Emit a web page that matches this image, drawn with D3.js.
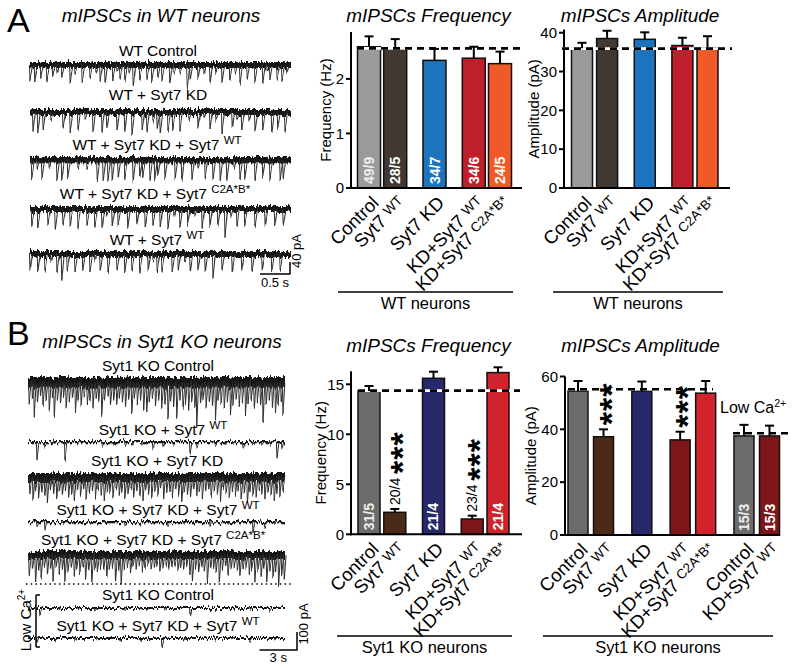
<!DOCTYPE html>
<html><head><meta charset="utf-8">
<script src="https://cdn.jsdelivr.net/npm/d3@7"></script>
<style>body{margin:0;background:#fff} svg{display:block}</style>
</head><body><svg id="c" width="800" height="668"></svg>
<script>
// ---------------- DATA ----------------
// Panel A bar charts (WT neurons)
const catsA = ["Control", "Syt7 ^WT", "Syt7 KD", "KD+Syt7 ^WT", "KD+Syt7 ^C2A*B*"];
const groupsA = [0, 0, 1, 2, 2];
const colorsA = ["#9a9a9a", "#413931", "#1c74bd", "#be1f2b", "#f05a28"];
const freqA = [2.59, 2.55, 2.34, 2.38, 2.28];
const freqAErr = [0.19, 0.18, 0.21, 0.21, 0.22];
const nA = ["49/9", "28/5", "34/7", "34/6", "24/5"];
const freqARef = 2.56;
const ampA = [36.0, 38.5, 38.3, 36.7, 36.1];
const ampAErr = [1.4, 2.0, 1.8, 2.0, 3.0];
const ampARef = 35.9;
const freqATicks = [0, 1, 2];
const ampATicks = [0, 10, 20, 30, 40];

// Panel B bar charts (Syt1 KO neurons)
const catsBF = ["Control", "Syt7 ^WT", "Syt7 KD", "KD+Syt7 ^WT", "KD+Syt7 ^C2A*B*"];
const groupsBF = [0, 0, 1, 2, 2];
const colorsBF = ["#6b6b6b", "#4b2a19", "#27296b", "#7d1519", "#d0232b"];
const freqB = [14.33, 2.2, 15.6, 1.53, 16.17];
const freqBErr = [0.5, 0.33, 0.66, 0.33, 0.53];
const nBF = ["31/5", "20/4", "21/4", "23/4", "21/4"];
const sigBF = [0, 3, 0, 3, 0];
const freqBRef = 14.37;
const freqBTicks = [0, 5, 10, 15];

const catsBA = ["Control", "Syt7 ^WT", "Syt7 KD", "KD+Syt7 ^WT", "KD+Syt7 ^C2A*B*", "Control", "KD+Syt7 ^WT"];
const groupsBA = [0, 0, 1, 2, 2, 3, 3];
const colorsBA = ["#6b6b6b", "#4b2a19", "#27296b", "#7d1519", "#d0232b", "#6b6b6b", "#7d1519"];
const ampB = [54.5, 37.2, 54.5, 36.0, 53.7, 37.5, 37.5];
const ampBErr = [3.8, 2.8, 3.6, 3.1, 4.6, 4.2, 3.9];
const nBA = ["", "", "", "", "", "15/3", "15/3"];
const sigBA = [0, 3, 0, 3, 0, 0, 0];
const ampBRef = 55.2;
const ampBLowCaRef = 38.5;
const ampBTicks = [0, 20, 40, 60];

// Example traces: labels, baseline noise (pA) and events [time (s), amplitude (pA)]
const traceLabelsA = ["WT Control", "WT + Syt7 KD", "WT + Syt7 KD + Syt7 ^WT", "WT + Syt7 KD + Syt7 ^C2A*B*", "WT + Syt7 ^WT"];
const traceNoiseA = [20, 20, 21, 20, 20];
const evA1 = [[0.00,55],[0.08,50],[0.18,45],[0.28,55],[0.38,40],[0.45,25],[0.53,45],[0.67,60],[0.75,28],[0.87,55],[1.00,45],[1.10,28],[1.17,55],[1.25,60],[1.38,50],[1.45,25],[1.50,45],[1.58,55],[1.65,28],[1.72,70],[1.83,50],[1.95,45],[2.03,60],[2.13,45],[2.20,55],[2.33,60],[2.40,28],[2.50,25],[2.62,75],[2.67,50],[2.80,45],[2.90,28],[3.00,55],[3.10,25],[3.20,60],[3.33,50],[3.42,28],[3.50,65],[3.62,45],[3.75,55],[3.88,60],[3.95,25],[4.00,50],[4.12,45],[4.20,55],[4.28,28]];
const evA2 = [[0.05,65],[0.13,70],[0.22,60],[0.35,28],[0.55,55],[0.67,70],[0.80,60],[0.92,28],[1.05,65],[1.20,70],[1.28,55],[1.45,60],[1.58,65],[1.70,75],[1.87,60],[1.95,65],[2.05,28],[2.12,55],[2.17,70],[2.30,65],[2.38,60],[2.50,65],[2.65,28],[2.80,55],[2.90,25],[3.00,60],[3.10,28],[3.20,70],[3.37,55],[3.45,25],[3.53,60],[3.65,28],[3.75,65],[3.88,60],[4.03,70],[4.13,55],[4.25,65]];
const evA3 = [[0.03,60],[0.12,28],[0.20,65],[0.32,25],[0.45,70],[0.53,65],[0.63,60],[0.80,25],[0.95,28],[1.12,70],[1.22,75],[1.30,65],[1.37,70],[1.47,60],[1.58,65],[1.72,70],[1.83,60],[1.88,55],[2.00,65],[2.08,70],[2.13,55],[2.25,65],[2.42,60],[2.53,70],[2.70,65],[2.80,28],[2.92,60],[3.05,65],[3.17,70],[3.28,75],[3.40,28],[3.50,60],[3.58,65],[3.75,70],[3.88,55],[4.00,65],[4.17,70],[4.22,60]];
const evA4 = [[0.03,55],[0.13,60],[0.30,55],[0.42,65],[0.55,55],[0.67,60],[0.80,65],[0.95,55],[1.08,60],[1.20,65],[1.28,25],[1.37,60],[1.47,55],[1.63,65],[1.78,55],[1.92,60],[2.05,55],[2.17,60],[2.30,65],[2.40,28],[2.50,60],[2.63,55],[2.75,25],[2.87,65],[3.00,60],[3.13,55],[3.25,95],[3.35,28],[3.45,60],[3.58,55],[3.75,60],[3.92,55],[4.08,60],[4.22,55]];
const evA5 = [[0.00,55],[0.13,60],[0.25,55],[0.35,25],[0.45,60],[0.53,85],[0.62,55],[0.75,60],[0.88,55],[1.00,60],[1.08,25],[1.17,55],[1.30,60],[1.45,55],[1.58,60],[1.70,55],[1.83,60],[1.97,55],[2.05,25],[2.12,60],[2.20,55],[2.37,60],[2.47,55],[2.58,25],[2.67,60],[2.80,55],[2.92,60],[3.05,75],[3.20,55],[3.37,60],[3.53,55],[3.70,60],[3.87,55],[4.03,60],[4.17,55]];

const traceLabelsB = ["Syt1 KO Control", "Syt1 KO + Syt7 ^WT", "Syt1 KO + Syt7 KD", "Syt1 KO + Syt7 KD + Syt7 ^WT", "Syt1 KO + Syt7 KD + Syt7 ^C2A*B*", "Syt1 KO Control", "Syt1 KO + Syt7 KD + Syt7 ^WT"];
const traceNoiseB = [60, 12, 50, 12, 45, 11, 11];
const evB1 = [[0.1,120],[0.35,90],[0.5,200],[0.75,110],[1.0,80],[1.2,130],[1.45,100],[1.7,150],[1.95,90],[2.1,190],[2.35,100],[2.6,120],[2.85,80],[3.05,140],[3.3,110],[3.55,90],[3.8,170],[4.0,100],[4.25,130],[4.5,80],[4.75,120],[4.95,100],[5.2,140],[5.45,90],[5.65,110],[5.9,180],[6.1,100],[6.4,80],[6.6,130],[6.85,100],[7.1,120],[7.3,90],[7.55,110],[7.8,140],[8.05,100],[8.3,170],[8.5,90],[8.75,120],[9.0,100],[9.25,150],[9.5,170],[9.7,110],[9.95,90],[10.2,130],[10.45,100],[10.7,140],[10.95,120],[11.2,200],[11.4,110],[11.65,130],[11.9,190],[12.15,100],[12.4,140],[12.6,120],[12.85,150],[13.1,110],[13.35,130],[13.5,250],[13.8,120],[14.0,100],[14.25,140],[14.5,110],[14.75,130],[15.0,210],[15.2,100],[15.45,120],[15.7,140],[15.95,110],[16.2,180],[16.4,120],[16.65,100],[16.9,130],[17.15,110],[17.4,180],[17.6,120],[17.85,100],[18.1,140],[18.35,110],[18.6,130],[18.8,220],[19.05,120],[19.3,100],[19.55,140],[19.8,170],[20.0,120],[20.25,110],[20.4,180]];
const evB2 = [[0.72,100],[1.36,25],[2.00,12],[2.96,105],[4.00,15],[5.92,20],[6.80,12],[7.76,25],[8.40,14],[9.12,20],[10.00,45],[10.80,25],[11.60,12],[12.96,60],[13.52,25],[14.96,20],[15.80,15],[16.40,12],[17.20,25],[18.00,14],[18.72,20],[19.36,20],[19.92,90],[20.32,40]];
const evB3 = [[0.15,90],[0.4,130],[0.6,70],[0.85,110],[1.1,80],[1.35,100],[1.55,140],[1.8,70],[2.05,90],[2.3,120],[2.5,80],[2.75,100],[3.0,70],[3.25,110],[3.5,90],[3.7,130],[3.95,80],[4.2,100],[4.45,70],[4.65,120],[4.9,90],[5.15,80],[5.4,110],[5.6,70],[5.85,100],[6.1,130],[6.35,80],[6.55,90],[6.8,110],[7.05,70],[7.3,100],[7.5,80],[7.75,120],[8.0,90],[8.25,70],[8.45,110],[8.7,80],[8.95,100],[9.2,130],[9.4,70],[9.65,90],[9.9,110],[10.15,80],[10.4,100],[10.6,70],[10.85,120],[11.1,90],[11.35,80],[11.55,110],[11.8,70],[12.05,100],[12.3,140],[12.5,80],[12.75,90],[13.0,110],[13.25,70],[13.5,100],[13.7,80],[13.95,120],[14.2,90],[14.45,70],[14.65,110],[14.9,80],[15.15,100],[15.4,130],[15.6,70],[15.85,90],[16.1,110],[16.35,80],[16.6,100],[16.8,70],[17.05,120],[17.3,90],[17.55,140],[17.75,80],[18.0,100],[18.25,110],[18.5,70],[18.7,90],[18.95,120],[19.2,80],[19.45,100],[19.7,130],[19.9,90],[20.15,110],[20.4,80]];
const evB4 = [[0.72,25],[1.36,45],[2.72,15],[3.50,10],[5.00,12],[6.20,10],[7.76,20],[9.00,12],[10.00,10],[11.20,25],[12.50,12],[13.40,10],[14.56,30],[16.00,12],[18.00,60],[18.96,30],[19.76,15],[20.20,10]];
const evB5 = [[0.1,120],[0.35,80],[0.6,150],[0.85,90],[1.05,130],[1.3,70],[1.55,110],[1.8,80],[2.0,140],[2.25,70],[2.5,100],[2.75,80],[2.95,150],[3.2,90],[3.45,70],[3.7,120],[3.9,80],[4.15,100],[4.4,70],[4.6,130],[4.85,90],[5.1,160],[5.35,80],[5.55,100],[5.8,70],[6.05,90],[6.3,120],[6.5,80],[6.75,70],[7.0,150],[7.25,90],[7.45,160],[7.7,80],[7.95,70],[8.2,100],[8.4,60],[8.65,80],[8.9,60],[9.15,90],[9.35,70],[9.6,60],[9.85,80],[10.1,70],[10.3,60],[10.55,90],[10.8,70],[11.05,60],[11.25,80],[11.5,70],[11.75,60],[12.0,90],[12.2,70],[12.45,80],[12.7,60],[12.95,110],[13.15,150],[13.4,80],[13.65,100],[13.9,70],[14.1,90],[14.35,150],[14.6,80],[14.85,70],[15.05,100],[15.3,160],[15.55,80],[15.8,70],[16.0,110],[16.25,80],[16.5,70],[16.75,90],[16.95,120],[17.2,80],[17.45,70],[17.7,100],[17.9,80],[18.15,140],[18.4,90],[18.65,120],[18.85,80],[19.1,150],[19.35,90],[19.6,130],[19.8,100],[20.05,160],[20.3,110],[20.5,140]];
const evB6 = [[0.96,40],[2.5,10],[4.0,10],[5.36,15],[7.76,15],[9.5,10],[10.96,15],[12.96,45],[15.0,10],[16.5,10],[17.76,15],[19.36,20]];
const evB7 = [[0.72,30],[2.2,10],[3.76,15],[5.5,10],[7.36,12],[9.0,10],[10.72,50],[12.5,10],[14.96,15],[16.3,10],[17.76,20],[19.76,15]];

const scaleBarA = {t: 0.5, pA: 40, tLabel: "0.5 s", aLabel: "40 pA"};
const scaleBarB = {t: 3, pA: 100, tLabel: "3 s", aLabel: "100 pA"};

// ---------------- DRAWING ----------------
const FONT = '"Liberation Sans", Arial, Helvetica, sans-serif';
const svg = d3.select("#c").attr("font-family", FONT);
const JIT = 8; // px of vertical jitter texture on traces

const defs = svg.append("defs");
const flt = defs.append("filter").attr("id", "jit").attr("filterUnits", "userSpaceOnUse")
  .attr("x", 0).attr("y", 0).attr("width", 800).attr("height", 668);
flt.append("feTurbulence").attr("type", "fractalNoise").attr("baseFrequency", "0.6 0.03")
  .attr("numOctaves", 2).attr("seed", 3).attr("result", "n");
flt.append("feColorMatrix").attr("in", "n").attr("type", "matrix")
  .attr("values", "0 0 0 0 0.5  0 1 0 0 0  0 0 1 0 0  0 0 0 0 1").attr("result", "m");
flt.append("feDisplacementMap").attr("in", "SourceGraphic").attr("in2", "m").attr("scale", JIT)
  .attr("xChannelSelector", "R").attr("yChannelSelector", "G");

function rich(sel, str, supSize, raise) {
  const parts = str.split("^");
  sel.append("tspan").text(parts[0]);
  if (parts.length > 1) sel.append("tspan").attr("font-size", supSize).attr("dy", -raise).text(parts[1]);
  return sel;
}
function txt(x, y, s, size, opts = {}) {
  const t = svg.append("text").attr("x", x).attr("y", y).attr("font-size", size)
    .attr("text-anchor", opts.anchor || "middle").attr("fill", opts.fill || "#000");
  if (opts.italic) t.attr("font-style", "italic");
  if (opts.bold) t.attr("font-weight", "bold");
  if (opts.ls) t.attr("letter-spacing", opts.ls);
  if (opts.rotate != null) t.attr("transform", `rotate(${opts.rotate},${x},${y})`);
  rich(t, s, opts.sup || size * 0.72, opts.raise || size * 0.38);
  return t;
}
function line(x1, y1, x2, y2, w = 1, color = "#000", dash) {
  const l = svg.append("line").attr("x1", x1).attr("y1", y1).attr("x2", x2).attr("y2", y2)
    .attr("stroke", color).attr("stroke-width", w);
  if (dash) l.attr("stroke-dasharray", dash);
  return l;
}

// panel letters and titles
txt(7, 32, "A", 34, {anchor: "start"});
txt(7, 345, "B", 34, {anchor: "start"});
txt(161, 22, "mIPSCs in WT neurons", 19, {italic: true});
txt(162, 348, "mIPSCs in Syt1 KO neurons", 19, {italic: true});

// ---- traces ----
function drawTraces(labels, events, noise, cfg) {
  const x = d3.scaleLinear().domain([0, cfg.tEnd]).range([cfg.x0, cfg.x1]);
  const a = d3.scaleLinear().domain([0, 100]).range([0, cfg.pxPer100]);
  labels.forEach((lab, i) => {
    txt(cfg.labelX[i], cfg.labelY[i], lab, 15.5, {sup: 11.5, raise: 6});
    const bw = a(noise[i]);
    const mid = cfg.base[i] + JIT / 2 + bw / 2;   // base = top of the noisy band
    const g = svg.append("g").attr("filter", "url(#jit)");
    g.append("line").attr("x1", x(0)).attr("x2", x(cfg.tEnd)).attr("y1", mid).attr("y2", mid)
      .attr("stroke", "#151515").attr("stroke-width", bw);
    const p = d3.path();
    events[i].forEach(([t, amp]) => {
      const xx = x(t);
      p.moveTo(xx - 0.6, mid);
      p.lineTo(xx, mid + a(amp));
      p.lineTo(xx + cfg.decay, mid + 1);
    });
    g.append("path").attr("d", p.toString()).attr("fill", "none").attr("stroke", "#303030").attr("stroke-width", 1);
  });
  return {x, a};
}

const tA = drawTraces(traceLabelsA, [evA1, evA2, evA3, evA4, evA5], traceNoiseA, {
  tEnd: 4.35, x0: 30, x1: 291, pxPer100: 30, decay: 2.4,
  base: [58, 105, 153, 202, 247],
  labelX: [158, 158, 157, 155, 157], labelY: [56, 100, 150, 199, 245]
});
const tB = drawTraces(traceLabelsB, [evB1, evB2, evB3, evB4, evB5, evB6, evB7], traceNoiseB, {
  tEnd: 20.56, x0: 28, x1: 285, pxPer100: 18, decay: 1.8,
  base: [373, 437, 469, 517, 547, 603, 633],
  labelX: [158, 163, 157, 158, 153, 158, 158], labelY: [371, 435, 466, 515, 545, 600, 631]
});

// scale bars
function scaleBar(sc, sb, xr, yb, tLabelY, aLabelX, aLabelY) {
  const w = sc.x(sb.t) - sc.x(0), h = sc.a(sb.pA);
  line(xr - w, yb, xr + 0.5, yb, 1.5);
  line(xr, yb, xr, yb - h, 1.5);
  txt(xr - w / 2, tLabelY, sb.tLabel, 13);
  txt(aLabelX, aLabelY, sb.aLabel, 13, {rotate: -90});
}
scaleBar(tA, scaleBarA, 290, 274, 287, 301, 251);
scaleBar(tB, scaleBarB, 297, 650, 662, 308, 624);

// dotted separator and low Ca bracket
line(26, 584, 292, 584, 1.5, "#000", "1.5,3.2");
line(36, 595, 36, 647, 1.5);
line(36, 595, 40, 595, 1.5);
line(36, 647, 40, 647, 1.5);
txt(31, 620, "Low Ca^2+", 15, {rotate: -90, sup: 10, raise: 6});

// ---- bar charts ----
function barChart(c) {
  const y = d3.scaleLinear().domain(c.yDomain).range([c.y0, c.yTop]);
  const slots = c.groups.map((gi, i) => i + 0.5 * gi);
  const x = d3.scaleLinear().domain([0, d3.max(slots)]).range([c.xFirst, c.xLast]);
  const g = svg.append("g");
  // y axis (line + ticks from the scale)
  line(c.axisX, y.range()[0] + 1, c.axisX, y.range()[1], 2);
  c.ticks.forEach(v => {
    line(c.axisX - 5, y(v), c.axisX, y(v), 2);
    svg.append("text").attr("x", c.axisX - 7).attr("y", y(v) + 5.3).attr("font-size", 15)
      .attr("text-anchor", "end").text(d3.format("d")(v));
  });
  line(c.axisX - 1, c.y0, c.axisEnd, c.y0, 2);
  // y label & title
  txt(c.yLabelX, (c.y0 + c.yTop) / 2, c.yLabel, 15, {rotate: -90});
  txt((c.axisX + c.axisEnd) / 2 + c.titleDx, c.titleY, c.title, 19, {italic: true});
  const bw = c.barW;
  c.vals.forEach((v, i) => {
    const cx = x(slots[i]);
    g.append("rect").attr("x", cx - bw / 2).attr("y", y(v)).attr("width", bw).attr("height", c.y0 - y(v))
      .attr("fill", c.colors[i]).attr("stroke", "#111").attr("stroke-width", 1.5);
  });
  // reference dashed lines
  c.refs.forEach(r => {
    line(r.x1, y(r.v), r.x2, y(r.v), 2.6, "#fff");
    line(r.x1, y(r.v), r.x2, y(r.v), 2.6, "#000", "7,5");
  });
  c.vals.forEach((v, i) => {
    const cx = x(slots[i]);
    const top = y(v + c.errs[i]);
    line(cx, y(v), cx, top, 2);
    line(cx - 4.5, top, cx + 4.5, top, 2);
    // n labels
    let labTop = top - 2;
    const lab = c.nLabels[i];
    if (lab) {
      if (c.y0 - y(v) > 40) {
        txt(cx + 5, c.y0 - 4, lab, 14, {anchor: "start", bold: true, rotate: -90, fill: c.colors[i] === "#9a9a9a" || c.colors[i] === "#6b6b6b" ? "#eee" : "#fff"});
      } else {
        txt(cx + 5, top - 4, lab, 14, {anchor: "start", rotate: -90});
        labTop = top - 4 - 29;
      }
    }
    const ns = c.sig ? c.sig[i] : 0;
    if (ns > 0) {
      txt(cx + 19, labTop - 2, "*".repeat(ns), 34, {anchor: "start", bold: true, rotate: -90, ls: 1});
    }
    // x labels
    txt(cx + 11, c.y0 + 16, c.cats[i], 18.5, {anchor: "end", rotate: -45, sup: 13.5, raise: 4});
  });
  // group line(s)
  c.groupsLines.forEach(gl => {
    line(gl.x1, gl.y, gl.x2, gl.y, 1.5);
    txt((gl.x1 + gl.x2) / 2 + (gl.dx || 0), gl.y + 17, gl.label, 16.5);
  });
  return {x, y};
}

barChart({
  cats: catsA, groups: groupsA, colors: colorsA, vals: freqA, errs: freqAErr, nLabels: nA,
  yDomain: [0, 2.86], y0: 188, yTop: 32, ticks: freqATicks, axisX: 351, axisEnd: 522,
  xFirst: 369, xLast: 500, barW: 23, yLabel: "Frequency (Hz)", yLabelX: 331,
  title: "mIPSCs Frequency", titleY: 22, titleDx: -8,
  refs: [{v: freqARef, x1: 357, x2: 522}],
  groupsLines: [{x1: 338, x2: 513, y: 292, label: "WT neurons"}]
});
barChart({
  cats: catsA, groups: groupsA, colors: colorsA, vals: ampA, errs: ampAErr, nLabels: ["", "", "", "", ""],
  yDomain: [0, 40.8], y0: 188, yTop: 29.6, ticks: ampATicks, axisX: 564, axisEnd: 730,
  xFirst: 582, xLast: 707.5, barW: 21, yLabel: "Amplitude (pA)", yLabelX: 539,
  title: "mIPSCs Amplitude", titleY: 22, titleDx: -7,
  refs: [{v: ampARef, x1: 562, x2: 732}],
  groupsLines: [{x1: 553, x2: 723, y: 292, label: "WT neurons"}]
});
barChart({
  cats: catsBF, groups: groupsBF, colors: colorsBF, vals: freqB, errs: freqBErr, nLabels: nBF, sig: sigBF,
  yDomain: [0, 16.3], y0: 534.3, yTop: 371.3, ticks: freqBTicks, axisX: 351, axisEnd: 522,
  xFirst: 369, xLast: 498, barW: 22, yLabel: "Frequency (Hz)", yLabelX: 326,
  title: "mIPSCs Frequency", titleY: 352, titleDx: -8,
  refs: [{v: freqBRef, x1: 358, x2: 520}],
  groupsLines: [{x1: 337, x2: 512, y: 636, label: "Syt1 KO neurons"}]
});
barChart({
  cats: catsBA, groups: groupsBA, colors: colorsBA, vals: ampB, errs: ampBErr, nLabels: nBA, sig: sigBA,
  yDomain: [0, 60], y0: 535, yTop: 376.5, ticks: ampBTicks, axisX: 565, axisEnd: 780,
  xFirst: 578, xLast: 769.5, barW: 20, yLabel: "Amplitude (pA)", yLabelX: 536,
  title: "mIPSCs Amplitude", titleY: 352, titleDx: -32,
  refs: [{v: ampBRef, x1: 568, x2: 713}, {v: ampBLowCaRef, x1: 733, x2: 790}],
  groupsLines: [{x1: 543, x2: 773, y: 636, label: "Syt1 KO neurons"}]
});
txt(720, 413, "Low Ca^2+", 16, {anchor: "start", sup: 10.5, raise: 6});
</script></body></html>
